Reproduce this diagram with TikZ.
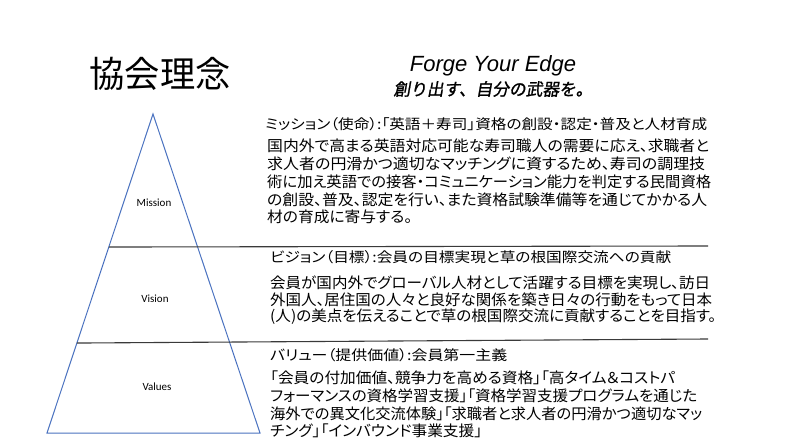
\documentclass[tikz,border=0pt]{standalone}
\usepackage{fontspec}
\usepackage{graphicx}
\usetikzlibrary{calc}
\setmainfont{Noto Sans CJK JP}
\newfontfamily\jp{Noto Sans CJK JP}[RawFeature=+palt]
\newfontfamily\jpit{Noto Sans CJK JP}[FakeSlant=0.18,FakeBold=1.2]
\newfontfamily\arialf{Liberation Sans}
\newfontfamily\calib{Carlito}
\newcommand\fitw[2]{\resizebox{#1pt}{\height}{#2}}
\definecolor{triblue}{HTML}{4A72C0}
\definecolor{sepgray}{HTML}{3A3A3A}
\tikzset{
  tri/.style={draw=triblue, line width=1pt, line join=miter},
  sepline/.style={draw=sepgray, line width=1.1pt},
  lvl/.style={font=\calib\fontsize{11}{13}\selectfont, inner sep=0pt},
  headtxt/.style={anchor=west, inner sep=0pt, font=\jp\fontsize{14}{16}\selectfont},
  bodytxt/.style={anchor=west, inner sep=0pt, font=\jp\fontsize{15}{17}\selectfont},
}
\begin{document}
\begin{tikzpicture}[x=1pt,y=-1pt]
\useasboundingbox[fill=white] (0,0) rectangle (793,446);

% title and slogan
\node[inner sep=0pt, font=\jp\fontsize{36}{40}\selectfont] (title) at (160,74) {\fitw{141}{協会理念}};
\node[anchor=base, inner sep=0pt, font=\arialf\itshape\fontsize{22}{26}\selectfont] (forge) at (493,72) {Forge Your Edge};
\node[inner sep=0pt, font=\jpit\fontsize{17}{20}\selectfont] (slogan) at (493,89) {\fitw{199}{創り出す、自分の武器を。}};

% pyramid
\coordinate (apex) at (153,114);
\coordinate (bl) at (47,433);
\coordinate (br) at (260,433);
\draw[tri] (apex) -- (br) -- (bl) -- cycle;
\coordinate (s1a) at ($(apex)!0.417!(bl)$);
\coordinate (s1b) at (708,246);
\coordinate (s2a) at ($(apex)!0.718!(bl)$);
\coordinate (s2b) at (708,339);
\draw[sepline] (s1a) -- (s1b);
\draw[sepline] (s2a) -- (s2b);

\node[lvl] (mission) at (154,203) {Mission};
\node[lvl] (vision) at (155,299) {Vision};
\node[lvl] (values) at (157,387) {Values};

% mission text
\node[headtxt] (m0) at (265,124.5) {\fitw{442}{ミッション（使命）:「英語＋寿司」資格の創設・認定・普及と人材育成}};
\node[bodytxt] (m1) at (267,146) {\fitw{442}{国内外で高まる英語対応可能な寿司職人の需要に応え、求職者と}};
\node[bodytxt] (m2) at (267,164) {\fitw{438}{求人者の円滑かつ適切なマッチングに資するため、寿司の調理技}};
\node[bodytxt] (m3) at (267,182) {\fitw{444}{術に加え英語での接客・コミュニケーション能力を判定する民間資格}};
\node[bodytxt] (m4) at (267,199.5) {\fitw{440}{の創設、普及、認定を行い、また資格試験準備等を通じてかかる人}};
\node[bodytxt] (m5) at (267,217) {\fitw{145}{材の育成に寄与する。}};

% vision text
\node[headtxt] (v0) at (270,257) {\fitw{401}{ビジョン（目標）:会員の目標実現と草の根国際交流への貢献}};
\node[bodytxt] (v1) at (270,283) {\fitw{440}{会員が国内外でグローバル人材として活躍する目標を実現し、訪日}};
\node[bodytxt] (v2) at (270,300) {\fitw{442}{外国人、居住国の人々と良好な関係を築き日々の行動をもって日本}};
\node[bodytxt] (v3) at (270,317) {\fitw{446}{(人)の美点を伝えることで草の根国際交流に貢献することを目指す。}};

% values text
\node[headtxt] (u0) at (270,355) {\fitw{237}{バリュー（提供価値）:会員第一主義}};
\node[bodytxt] (u1) at (270,378) {\fitw{405}{「会員の付加価値、競争力を高める資格」「高タイム＆コストパ}};
\node[bodytxt] (u2) at (270,396) {\fitw{427}{フォーマンスの資格学習支援」「資格学習支援プログラムを通じた}};
\node[bodytxt] (u3) at (270,413.5) {\fitw{432}{海外での異文化交流体験」「求職者と求人者の円滑かつ適切なマッ}};
\node[bodytxt] (u4) at (270,431) {\fitw{212}{チング」「インバウンド事業支援」}};
\end{tikzpicture}
\end{document}
